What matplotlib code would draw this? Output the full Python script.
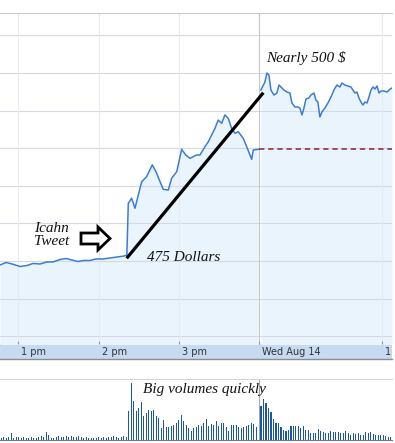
import numpy as np
import matplotlib.pyplot as plt
from matplotlib.patches import Polygon, Rectangle
from matplotlib.lines import Line2D
import matplotlib.transforms as mtransforms

# time in minutes after 12:00 (Aug 13); the Aug 14 open is placed right after the 4 pm close (240)
t_day1 = [46.3, 50.8, 55.3, 61.3, 66.5, 71.0, 76.2, 81.5, 85.9, 91.2,
          95.6, 100.1, 104.6, 109.1, 113.6, 118.0, 123.3, 128.5, 133.8, 139.0,
          141.1, 142.2, 144.7, 147.2, 152.2, 155.9, 160.1, 162.9, 165.4, 168.3,
          172.1, 174.6, 178.4, 182.1, 185.1, 188.3, 193.3, 195.8, 199.5, 202.0,
          204.5, 207.0, 209.4, 212.0, 214.4, 216.9, 219.4, 221.9, 224.4, 228.1,
          230.7, 234.4, 235.6, 239.3]
price_day1 = [474.47, 474.80, 474.60, 474.27, 474.40, 474.67, 474.60, 474.87, 474.87, 475.20,
              475.33, 475.13, 474.93, 475.07, 475.07, 475.27, 475.27, 475.40, 475.53, 475.66,
              475.80, 482.67, 483.34, 482.01, 485.55, 486.21, 487.77, 486.88, 485.77, 484.53,
              484.44, 486.00, 486.88, 489.85, 489.10, 488.66, 489.10, 489.10, 490.20, 490.86,
              491.76, 492.65, 493.75, 493.31, 494.42, 493.98, 492.65, 491.98, 492.19, 491.32,
              490.20, 488.52, 489.76, 489.85]

t_day2 = [241.3, 242.1, 244.3, 245.8, 247.3, 248.8, 251.1, 253.3, 254.8, 256.3,
          258.5, 260.8, 263.0, 264.5, 266.8, 269.0, 270.5, 272.0, 273.5, 275.0,
          277.2, 278.7, 281.0, 282.4, 283.9, 285.4, 286.9, 289.2, 291.4, 293.7,
          295.9, 298.1, 300.4, 301.9, 304.1, 306.4, 308.6, 310.1, 311.6, 313.1,
          314.6, 316.1, 317.6, 319.1, 320.6, 322.1, 323.6, 325.1, 326.6, 328.1,
          329.6, 331.1, 333.3, 335.6, 337.1, 339.3]
price_day2 = [497.74, 498.01, 498.80, 500.00, 499.73, 497.74, 497.07, 497.34, 498.40, 498.14,
              497.74, 497.47, 497.34, 496.01, 495.48, 495.48, 495.35, 494.42, 495.35, 496.54,
              496.68, 497.07, 497.34, 496.41, 496.14, 494.15, 494.81, 495.35, 496.01, 496.81,
              497.74, 498.40, 498.14, 498.67, 498.40, 498.27, 498.14, 497.74, 497.34, 497.47,
              496.68, 496.14, 495.74, 496.14, 496.01, 496.81, 497.74, 498.14, 497.87, 498.27,
              497.34, 497.61, 497.61, 497.47, 497.74, 498.01]

prev_close = 489.89

vol_day1 = [2, 3, 2, 3, 7, 2, 3, 3, 2, 3, 2, 2, 3, 2, 2, 3, 4, 3, 8, 5,
            2, 2, 3, 4, 3, 3, 4, 3, 4, 3, 3, 4, 3, 2, 3, 2, 2, 2, 2, 3,
            2, 3, 2, 3, 3, 4, 3, 2, 3, 4, 3,
            29, 57, 39, 29, 32, 38, 24, 27, 30, 29, 30, 24, 22, 12, 20, 13, 13, 14, 15, 17,
            20, 25, 19, 15, 12, 9, 12, 13, 15, 14, 17, 21, 14, 16, 15, 19, 14, 17, 17, 13,
            9, 15, 15, 15, 13, 12, 13, 14, 15, 17, 16, 13]
vol_day2 = [34, 41, 37, 32, 28, 21, 17, 17, 13, 10, 9, 10, 14, 14, 14, 14, 12, 14, 10, 10,
            7, 7, 7, 11, 9, 8, 7, 7, 9, 8, 8, 8, 7, 7, 9, 7, 5, 7, 6, 7,
            5, 5, 8, 7, 8, 6, 5, 5, 5, 5, 4, 3, 3]

tick_pos = [60, 120, 180, 240, 332]
tick_labels = ['1 pm', '2 pm', '3 pm', 'Wed Aug 14', '1']

W, H = 395, 443
fig = plt.figure(figsize=(W / 100, H / 100), dpi=100)

def fx(x):
    return x / W

def fy(y):
    return 1 - y / H

xlim = (46.3, 339.3)
hand = dict(family='Liberation Serif', style='italic', fontsize=11, color='#111111')

# time band under the price panel (drawn first, behind the axes)
fig.patches.append(Rectangle((0, fy(359)), fx(392), fy(344) - fy(359),
                             transform=fig.transFigure, facecolor='#c6dbf2',
                             edgecolor='none', zorder=-5))
fig.lines.append(Line2D([0, fx(392)], [fy(359), fy(359)], transform=fig.transFigure,
                        color='#8e8e8e', lw=1, zorder=-4))

# price panel
ax = fig.add_axes([0, fy(344), fx(392), fy(13) - fy(344)])
ax.patch.set_alpha(0)
ax.set_xlim(*xlim)
ax.set_ylim(463.96, 507.98)
for v in range(465, 506, 5):
    ax.axhline(v, color='#d6d8e4', lw=0.8, zorder=1.5)
for tp in tick_pos:
    c = '#c4c6ce' if tp == 240 else '#e8eaf1'
    ax.axvline(tp, color=c, lw=0.8, zorder=1.5)

ax.fill_between(t_day1, price_day1, 460, color='#eaf4fd', lw=0, zorder=1)
ax.fill_between(t_day2, price_day2, 460, color='#eaf4fd', lw=0, zorder=1)
ax.plot(t_day1, price_day1, color='#3b7dd0', lw=1.1, zorder=3)
ax.plot(t_day2, price_day2, color='#3b7dd0', lw=1.1, zorder=3)
ax.plot([240, xlim[1]], [prev_close, prev_close], color='#8b2330', lw=1.1,
        dashes=(3.5, 2.5), zorder=2.5)

for s in ['left', 'right', 'bottom']:
    ax.spines[s].set_visible(False)
ax.spines['top'].set_color('#c8cad2')
ax.spines['top'].set_linewidth(0.8)
ax.set_yticks([])
ax.set_xticks(tick_pos)
ax.set_xticklabels(tick_labels, ha='left', fontsize=7, color='#333333')
ax.tick_params(axis='x', direction='in', length=2.5, color='#999999', pad=2)
offset = mtransforms.ScaledTranslation(3 / 100, 0, fig.dpi_scale_trans)
for lab in ax.get_xticklabels():
    lab.set_transform(lab.get_transform() + offset)

# annotations
ax.plot([141.0, 243.1], [475.36, 497.38], color='black', lw=2.3, zorder=4,
        solid_capstyle='butt')
ax.text(245.2, 502.0, 'Nearly 500 $', va='center', ha='left', zorder=5, **hand)
ax.text(156.2, 475.53, '475 Dollars', va='center', ha='left', zorder=5, **hand)
ax.text(71.7, 478.5, 'Icahn\nTweet', va='center', ha='left', linespacing=1.0, zorder=5, **hand)

arrow_px = [(81, 233), (98, 233), (98, 227), (110, 238.5), (98, 250), (98, 244), (81, 244)]
fig.patches.append(Polygon([(fx(x), fy(y)) for x, y in arrow_px], closed=True,
                           transform=fig.transFigure, facecolor='white',
                           edgecolor='black', lw=2, joinstyle='miter', zorder=5))

# volume panel
vx = fig.add_axes([0, fy(440), fx(392), fy(379) - fy(440)])
vx.set_xlim(*xlim)
vx.set_ylim(0, 61)
vx.axvline(240, color='#a8a8a8', lw=0.8, zorder=1)
vx.bar(np.linspace(47.3, 237.8, len(vol_day1)), vol_day1, width=0.95,
       color='#1a56a2', lw=0, zorder=2)
vx.bar(np.linspace(241.3, 338.4, len(vol_day2)), vol_day2, width=0.95,
       color='#1a56a2', lw=0, zorder=2)
for s in ['left', 'right']:
    vx.spines[s].set_visible(False)
vx.spines['top'].set_color('#d4d4d4')
vx.spines['bottom'].set_color('#777777')
vx.set_xticks([])
vx.set_yticks([])
vx.text(153.2, 51, 'Big volumes quickly', va='center', ha='left', zorder=5, **hand)

plt.savefig('out.png', dpi=100)
